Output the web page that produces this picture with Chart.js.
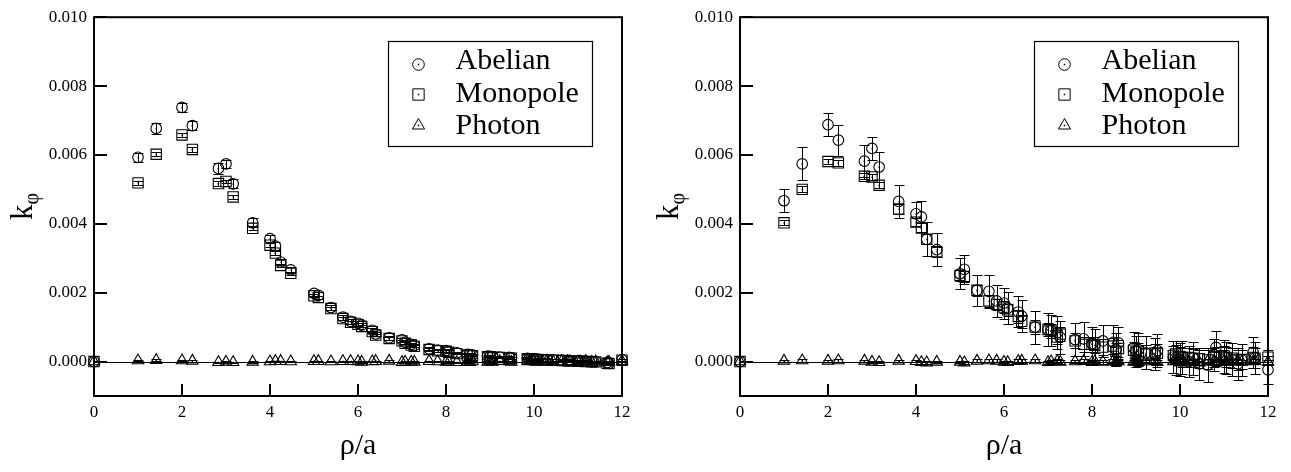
<!DOCTYPE html>
<html>
<head>
<meta charset="utf-8">
<script src="https://cdn.jsdelivr.net/npm/chart.js@4.4.0/dist/chart.umd.min.js"></script>
<style>
  body { margin: 0; background: #fff; }
  .panel { position: absolute; top: 0; width: 646px; height: 472px; }
</style>
</head>
<body>
<div class="panel" style="left:0"><canvas id="left" width="646" height="472"></canvas></div>
<div class="panel" style="left:646px"><canvas id="right" width="646" height="472"></canvas></div>
<script>
// rho/a of the measured distances
const rho = [
  0, 1, 1.414, 2, 2.236, 2.828, 3, 3.162, 3.606, 4,
  4.123, 4.243, 4.472, 5, 5.099, 5.385, 5.657, 5.831, 6, 6.083,
  6.325, 6.403, 6.708, 7, 7.071, 7.211, 7.280, 7.616, 7.810, 8,
  8.062, 8.246, 8.485, 8.544, 8.602, 8.944, 9, 9.055, 9.220, 9.434,
  9.487, 9.849, 9.899, 10, 10.050, 10.198, 10.296, 10.440, 10.630, 10.770,
  10.817, 11, 11.045, 11.180, 11.314, 11.402, 11.662, 11.705, 12
];
const xTicks = [0, 2, 4, 6, 8, 10, 12];
const yTicks = [0, 0.002, 0.004, 0.006, 0.008, 0.010];
const seriesNames = ['Abelian', 'Monopole', 'Photon'];

// values below are in units of 1e-3
const UNIT = 1e-3;

// left panel
const abelianL = [
  0, 5.93, 6.77, 7.38, 6.85, 5.61, 5.74, 5.16, 4.03, 3.57,
  3.35, 2.89, 2.66, 1.98, 1.92, 1.57, 1.29, 1.17, 1.11, 1.06,
  0.91, 0.80, 0.69, 0.63, 0.56, 0.50, 0.46, 0.37, 0.33, 0.32,
  0.29, 0.25, 0.21, 0.20, 0.19, 0.16, 0.15, 0.14, 0.13, 0.12,
  0.11, 0.09, 0.08, 0.08, 0.07, 0.06, 0.06, 0.05, 0.04, 0.03,
  0.03, 0.02, 0.02, 0.01, 0.00, 0.00, -0.03, -0.05, 0.05
];
const abelianErrL = [
  0, 0.13, 0.15, 0.12, 0.13, 0.15, 0.12, 0.13, 0.13, 0.11,
  0.11, 0.10, 0.10, 0.09, 0.09, 0.08, 0.07, 0.07, 0.07, 0.06,
  0.06, 0.06, 0.05, 0.05, 0.05, 0.05, 0.05, 0.04, 0.04, 0.04,
  0.04, 0.04, 0.04, 0.04, 0.04, 0.03, 0.03, 0.03, 0.03, 0.03,
  0.03, 0.03, 0.03, 0.03, 0.03, 0.03, 0.03, 0.03, 0.03, 0.03,
  0.03, 0.03, 0.03, 0.03, 0.03, 0.03, 0.03, 0.03, 0.03
];
const monopoleL = [
  0, 5.19, 6.02, 6.58, 6.16, 5.17, 5.23, 4.78, 3.87, 3.38,
  3.15, 2.79, 2.56, 1.91, 1.86, 1.54, 1.25, 1.14, 1.08, 1.02,
  0.87, 0.77, 0.67, 0.60, 0.53, 0.48, 0.44, 0.35, 0.31, 0.30,
  0.27, 0.23, 0.19, 0.18, 0.17, 0.14, 0.14, 0.13, 0.12, 0.10,
  0.10, 0.08, 0.07, 0.07, 0.06, 0.05, 0.05, 0.04, 0.03, 0.02,
  0.02, 0.01, 0.01, 0.00, -0.01, -0.01, -0.05, -0.06, 0.04
];
const monopoleErrL = [
  0, 0.06, 0.06, 0.05, 0.06, 0.06, 0.05, 0.06, 0.06, 0.05,
  0.05, 0.05, 0.05, 0.04, 0.04, 0.04, 0.04, 0.04, 0.04, 0.03,
  0.03, 0.03, 0.03, 0.03, 0.03, 0.03, 0.03, 0.03, 0.03, 0.03,
  0.02, 0.02, 0.02, 0.02, 0.02, 0.02, 0.02, 0.02, 0.02, 0.02,
  0.02, 0.02, 0.02, 0.02, 0.02, 0.02, 0.02, 0.02, 0.02, 0.02,
  0.02, 0.02, 0.02, 0.02, 0.02, 0.02, 0.02, 0.02, 0.02
];
const photonL = [
  0, 0.03, 0.04, 0.03, 0.02, -0.02, -0.01, -0.02, -0.01, 0.00,
  0.01, 0.01, 0.00, 0.01, 0.01, 0.00, 0.01, 0.01, 0.00, -0.01,
  0.00, 0.01, 0.02, -0.02, -0.01, -0.01, -0.01, 0.01, 0.00, -0.01,
  -0.01, -0.02, -0.01, -0.02, 0.00, -0.01, 0.00, -0.01, 0.01, 0.00,
  -0.01, 0.00, 0.01, 0.00, -0.01, 0.00, 0.01, -0.01, 0.00, 0.01,
  0.00, -0.01, 0.00, 0.01, -0.01, 0.00, -0.02, -0.01, 0.01
];
const photonErrL = [
  0, 0.02, 0.02, 0.02, 0.02, 0.02, 0.02, 0.02, 0.02, 0.02,
  0.02, 0.02, 0.02, 0.02, 0.02, 0.02, 0.02, 0.02, 0.02, 0.02,
  0.02, 0.02, 0.02, 0.02, 0.02, 0.02, 0.02, 0.02, 0.02, 0.02,
  0.02, 0.02, 0.02, 0.02, 0.02, 0.02, 0.02, 0.02, 0.02, 0.02,
  0.02, 0.02, 0.02, 0.02, 0.02, 0.02, 0.02, 0.02, 0.02, 0.02,
  0.02, 0.02, 0.02, 0.02, 0.02, 0.02, 0.02, 0.02, 0.02
];

// right panel
const abelianR = [
  0, 4.67, 5.74, 6.88, 6.43, 5.82, 6.19, 5.65, 4.65, 4.29,
  4.20, 3.55, 3.25, 2.55, 2.68, 2.07, 2.04, 1.76, 1.70, 1.55,
  1.44, 1.32, 1.00, 0.93, 0.90, 0.84, 0.70, 0.64, 0.66, 0.52,
  0.48, 0.60, 0.56, 0.35, 0.54, 0.40, 0.30, 0.35, 0.25, 0.22,
  0.32, 0.13, 0.10, 0.05, 0.12, 0.00, 0.10, -0.07, -0.10, 0.20,
  0.41, 0.15, 0.10, 0.05, -0.07, 0.05, 0.27, 0.10, -0.24
];
const abelianErrR = [
  0, 0.33, 0.48, 0.33, 0.45, 0.47, 0.34, 0.43, 0.49, 0.35,
  0.45, 0.49, 0.47, 0.45, 0.42, 0.45, 0.48, 0.46, 0.45, 0.46,
  0.45, 0.47, 0.48, 0.47, 0.46, 0.48, 0.47, 0.48, 0.49, 0.47,
  0.48, 0.46, 0.49, 0.48, 0.47, 0.46, 0.45, 0.47, 0.48, 0.46,
  0.48, 0.47, 0.49, 0.48, 0.47, 0.46, 0.48, 0.47, 0.49, 0.46,
  0.48, 0.47, 0.46, 0.48, 0.47, 0.46, 0.45, 0.47, 0.40
];
const monopoleR = [
  0, 4.03, 5.00, 5.81, 5.77, 5.38, 5.36, 5.12, 4.43, 4.05,
  3.88, 3.55, 3.19, 2.50, 2.47, 2.07, 1.76, 1.66, 1.58, 1.50,
  1.31, 1.17, 1.00, 0.93, 0.89, 0.71, 0.80, 0.60, 0.50, 0.50,
  0.47, 0.42, 0.45, 0.30, 0.38, 0.33, 0.28, 0.30, 0.22, 0.25,
  0.24, 0.18, 0.22, 0.15, 0.12, 0.12, 0.10, 0.08, 0.05, 0.12,
  0.15, 0.17, 0.12, 0.10, 0.05, 0.06, 0.12, 0.10, 0.13
];
const monopoleErrR = [
  0, 0.07, 0.09, 0.07, 0.09, 0.09, 0.08, 0.09, 0.14, 0.12,
  0.13, 0.14, 0.14, 0.15, 0.15, 0.16, 0.17, 0.17, 0.18, 0.18,
  0.19, 0.19, 0.20, 0.20, 0.21, 0.21, 0.21, 0.22, 0.22, 0.22,
  0.23, 0.23, 0.23, 0.24, 0.24, 0.24, 0.25, 0.25, 0.25, 0.25,
  0.26, 0.26, 0.26, 0.26, 0.27, 0.27, 0.27, 0.27, 0.28, 0.28,
  0.28, 0.28, 0.29, 0.29, 0.29, 0.29, 0.30, 0.30, 0.20
];
const photonR = [
  0, 0.02, 0.03, 0.02, 0.03, 0.02, -0.01, -0.02, 0.02, 0.01,
  -0.02, -0.03, -0.01, -0.01, -0.03, 0.02, 0.03, 0.02, -0.01, -0.02,
  0.01, 0.02, 0.03, -0.02, 0.00, 0.01, -0.01, 0.00, 0.01, -0.02,
  0.00, -0.01, 0.02, -0.02, 0.00, -0.01, 0.01, -0.02, 0.00, 0.01,
  -0.02, 0.00, 0.01, -0.03, 0.02, -0.01, 0.00, -0.03, 0.01, 0.00,
  -0.02, 0.01, -0.01, 0.00, 0.02, -0.01, 0.00, 0.01, -0.02
];
const photonErrR = [
  0, 0.03, 0.03, 0.03, 0.03, 0.03, 0.03, 0.03, 0.03, 0.03,
  0.04, 0.04, 0.04, 0.04, 0.04, 0.04, 0.04, 0.04, 0.04, 0.04,
  0.05, 0.05, 0.05, 0.05, 0.05, 0.05, 0.05, 0.05, 0.05, 0.05,
  0.05, 0.05, 0.05, 0.05, 0.05, 0.05, 0.05, 0.05, 0.05, 0.05,
  0.06, 0.06, 0.06, 0.06, 0.06, 0.06, 0.06, 0.06, 0.06, 0.06,
  0.06, 0.06, 0.06, 0.06, 0.06, 0.06, 0.06, 0.06, 0.06
];

const SERIF = "'Liberation Serif', 'Times New Roman', serif";
Chart.defaults.font.family = SERIF;
Chart.defaults.color = '#000';

const pts = vals => vals.map((v, i) => ({ x: rho[i], y: v * UNIT }));

function line(ctx, x1, y1, x2, y2) {
  ctx.beginPath();
  ctx.moveTo(x1, y1);
  ctx.lineTo(x2, y2);
  ctx.stroke();
}

// vertical error bars with caps, plus the small dot in the middle of each marker
const errorBars = {
  id: 'errorBars',
  afterDatasetsDraw(chart) {
    const ctx = chart.ctx;
    const ys = chart.scales.y;
    ctx.save();
    ctx.strokeStyle = '#000';
    ctx.fillStyle = '#000';
    ctx.lineWidth = 1;
    chart.data.datasets.forEach((ds, i) => {
      chart.getDatasetMeta(i).data.forEach((pt, j) => {
        const e = ds.err[j] * UNIT;
        const v = ds.data[j].y;
        const px = Math.round(pt.x) + 0.5;
        if (e > 0) {
          const yt = Math.round(ys.getPixelForValue(v + e)) + 0.5;
          const yb = Math.round(ys.getPixelForValue(v - e)) + 0.5;
          line(ctx, px, yt, px, yb);
          line(ctx, px - 5, yt, px + 5, yt);
          line(ctx, px - 5, yb, px + 5, yb);
        }
        ctx.fillRect(px - 1, pt.y - 0.5, 1.5, 1.5);
      });
    });
    ctx.restore();
  }
};

// frame, inward ticks, zero line, y title, boxed legend
const decorations = {
  id: 'decorations',
  afterDraw(chart) {
    const { ctx, chartArea: a, scales: { x, y } } = chart;
    ctx.save();
    ctx.strokeStyle = '#000';
    ctx.fillStyle = '#000';

    ctx.lineWidth = 1.2;
    const y0 = Math.round(y.getPixelForValue(0)) + 0.5;
    line(ctx, a.left, y0, a.right, y0);

    ctx.lineWidth = 2;
    yTicks.forEach(v => {
      const py = Math.round(y.getPixelForValue(v));
      line(ctx, a.left, py, a.left + 13, py);
    });
    xTicks.forEach(v => {
      const px = Math.round(x.getPixelForValue(v));
      line(ctx, px, a.bottom, px, a.bottom - 12);
    });
    ctx.strokeRect(a.left, a.top, a.right - a.left, a.bottom - a.top);

    // y axis title: k with subscript phi
    ctx.save();
    ctx.translate(a.left - 62, (a.top + a.bottom) / 2);
    ctx.rotate(-Math.PI / 2);
    ctx.textBaseline = 'alphabetic';
    ctx.textAlign = 'left';
    ctx.font = '31px ' + SERIF;
    const wk = ctx.measureText('k').width;
    ctx.font = '20px ' + SERIF;
    const wp = ctx.measureText('φ').width;
    const x0 = -(wk + wp) / 2;
    ctx.font = '31px ' + SERIF;
    ctx.fillText('k', x0, 0);
    ctx.font = '20px ' + SERIF;
    ctx.fillText('φ', x0 + wk, 6);
    ctx.restore();

    // legend
    const bx = Math.round(a.right - 234) + 0.5;
    const by = Math.round(a.top + 24) + 0.5;
    ctx.lineWidth = 1.2;
    ctx.strokeRect(bx, by, 204, 105);
    const markerY = [23, 53, 84];
    const textY = [27, 60, 92];
    ctx.font = '30px ' + SERIF;
    ctx.textAlign = 'left';
    ctx.textBaseline = 'alphabetic';
    chart.data.datasets.forEach((ds, i) => {
      const mx = bx + 30, my = by + markerY[i];
      ctx.fillStyle = 'rgba(0,0,0,0)';
      ctx.lineWidth = 1;
      Chart.helpers.drawPoint(ctx, {
        pointStyle: ds.pointStyle, radius: ds.legendRadius, rotation: 0, borderWidth: 1
      }, mx, my);
      ctx.fillStyle = '#000';
      ctx.fillRect(mx - 0.75, my - 0.75, 1.5, 1.5);
      ctx.fillText(ds.label, bx + 67, by + textY[i]);
    });
    ctx.restore();
  }
};

function makeChart(id, top, series) {
  const styles = [
    { pointStyle: 'circle', pointRadius: 5.3, legendRadius: 5.8 },
    { pointStyle: 'rect', pointRadius: 7.3, legendRadius: 8 },
    { pointStyle: 'triangle', pointRadius: 6.5, legendRadius: 7 }
  ];
  return new Chart(document.getElementById(id), {
    type: 'scatter',
    data: {
      datasets: series.map((s, i) => ({
        label: seriesNames[i],
        data: pts(s.vals),
        err: s.err,
        pointStyle: styles[i].pointStyle,
        pointRadius: styles[i].pointRadius,
        legendRadius: styles[i].legendRadius,
        pointBorderColor: '#000',
        pointBackgroundColor: 'rgba(0,0,0,0)',
        pointBorderWidth: 1.1,
        clip: false
      }))
    },
    options: {
      responsive: false,
      animation: false,
      events: [],
      layout: { padding: { left: 0, right: 24, top: top, bottom: 0 } },
      plugins: { legend: { display: false }, tooltip: { enabled: false } },
      scales: {
        x: {
          type: 'linear', min: 0, max: 12,
          afterBuildTicks: s => { s.ticks = xTicks.map(v => ({ value: v })); },
          ticks: { font: { size: 17 }, padding: 6, maxRotation: 0, callback: v => String(v) },
          grid: { display: false, drawTicks: false },
          border: { display: false },
          title: { display: true, text: 'ρ/a', font: { size: 30 }, padding: { top: 0, bottom: 8 } },
          afterFit: s => { s.height = 76; }
        },
        y: {
          type: 'linear', min: -0.001, max: 0.010,
          afterBuildTicks: s => { s.ticks = yTicks.map(v => ({ value: v })); },
          ticks: { font: { size: 17 }, padding: 7, callback: v => v.toFixed(3) },
          grid: { display: false, drawTicks: false },
          border: { display: false },
          afterFit: s => { s.width = 94; }
        }
      }
    },
    plugins: [errorBars, decorations]
  });
}

makeChart('left', 12, [
  { vals: abelianL, err: abelianErrL },
  { vals: monopoleL, err: monopoleErrL },
  { vals: photonL, err: photonErrL }
]);
makeChart('right', 11, [
  { vals: abelianR, err: abelianErrR },
  { vals: monopoleR, err: monopoleErrR },
  { vals: photonR, err: photonErrR }
]);
</script>
</body>
</html>
